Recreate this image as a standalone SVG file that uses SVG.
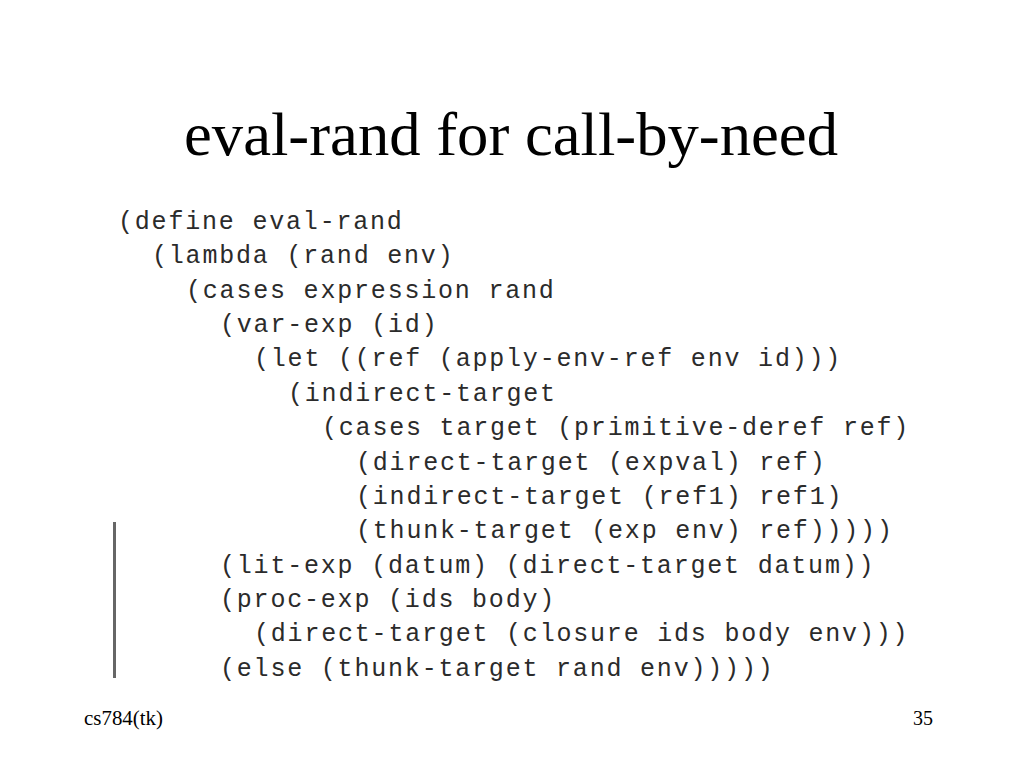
<svg xmlns="http://www.w3.org/2000/svg" width="1024" height="768" viewBox="0 0 1024 768">
<style>
.title{font-family:"Liberation Serif","Times New Roman",serif;font-size:62px;fill:#000}
.foot{font-family:"Liberation Serif","Times New Roman",serif;font-size:20px;fill:#000}
.code{font-family:"Liberation Mono","Courier New",monospace;font-size:25px;letter-spacing:1.8px;fill:#2b2b2b;white-space:pre}
</style>
<rect width="1024" height="768" fill="#fff"/>
<text class="title" x="511" y="155" text-anchor="middle" textLength="654" lengthAdjust="spacingAndGlyphs">eval-rand for call-by-need</text>
<g id="code">
<text class="code" x="118" y="229">(define eval-rand</text>
<text class="code" x="152" y="263">(lambda (rand env)</text>
<text class="code" x="186" y="298">(cases expression rand</text>
<text class="code" x="220" y="332">(var-exp (id)</text>
<text class="code" x="254" y="366">(let ((ref (apply-env-ref env id)))</text>
<text class="code" x="288" y="401">(indirect-target</text>
<text class="code" x="322" y="435">(cases target (primitive-deref ref)</text>
<text class="code" x="356" y="470">(direct-target (expval) ref)</text>
<text class="code" x="356" y="504">(indirect-target (ref1) ref1)</text>
<text class="code" x="356" y="538">(thunk-target (exp env) ref)))))</text>
<text class="code" x="220" y="573">(lit-exp (datum) (direct-target datum))</text>
<text class="code" x="220" y="607">(proc-exp (ids body)</text>
<text class="code" x="254" y="641">(direct-target (closure ids body env)))</text>
<text class="code" x="220" y="676">(else (thunk-target rand env)))))</text>
</g>
<rect x="113" y="522" width="3" height="156" fill="#666"/>
<text class="foot" x="84" y="725" textLength="79" lengthAdjust="spacingAndGlyphs">cs784(tk)</text>
<text class="foot" x="933" y="725" text-anchor="end">35</text>
</svg>
